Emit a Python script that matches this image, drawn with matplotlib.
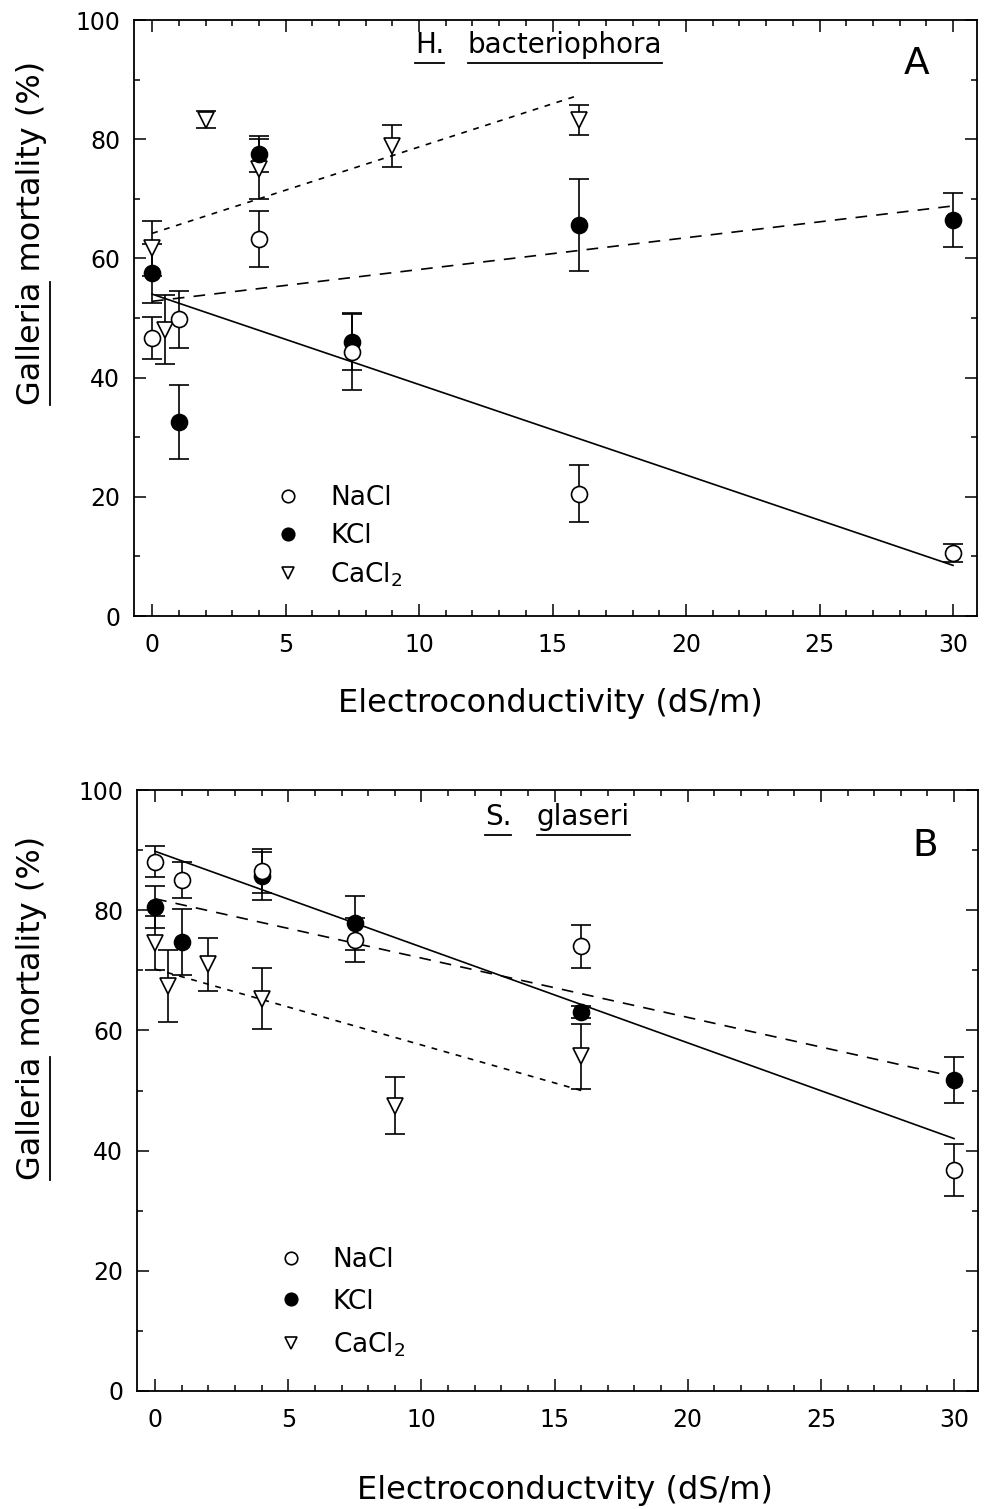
import numpy as np
import matplotlib.pyplot as plt
from matplotlib.lines import Line2D
from matplotlib.ticker import MultipleLocator

W, H = 987, 1509

# electroconductivity levels (dS/m)
ec_nacl = [0, 1, 4, 7.5, 16, 30]
ec_kcl = [0, 1, 4, 7.5, 16, 30]
ec_cacl2 = [0, 0.5, 2, 4, 9, 16]

# panel A, H. bacteriophora: Galleria mortality (%) and error
a_nacl = [46.6, 49.8, 63.3, 44.3, 20.5, 10.5]
a_nacl_err = [3.5, 4.8, 4.7, 6.3, 4.8, 1.5]
a_kcl = [57.5, 32.5, 77.5, 46.0, 65.6, 66.4]
a_kcl_err = [5.0, 6.2, 3.0, 4.8, 7.7, 4.5]
a_cacl2 = [61.7, 48.0, 83.3, 75.0, 78.8, 83.2]
a_cacl2_err = [4.6, 5.8, 1.5, 5.0, 3.5, 2.5]

# panel B, S. glaseri
b_nacl = [88.1, 85.0, 86.5, 75.0, 74.0, 36.8]
b_nacl_err = [2.5, 3.0, 3.6, 3.7, 3.6, 4.3]
b_kcl = [80.5, 74.7, 85.7, 77.9, 63.1, 51.7]
b_kcl_err = [3.5, 5.5, 4.0, 4.5, 1.0, 3.8]
b_cacl2 = [74.6, 67.4, 71.0, 65.3, 47.5, 55.7]
b_cacl2_err = [4.5, 6.0, 4.4, 5.0, 4.8, 5.4]

# regression lines: value at the two ends of the fitted range
fit_x = [0, 30]
fit_x_ca = [0, 16]
a_fit_nacl = [54.0, 8.5]
a_fit_kcl = [52.8, 68.8]
a_fit_cacl2 = [64.2, 87.4]
b_fit_nacl = [89.8, 42.0]
b_fit_kcl = [81.9, 52.3]
b_fit_cacl2 = [70.2, 50.0]


def px(x, y):
    return x / W, 1 - y / H


fig = plt.figure(figsize=(W / 100, H / 100), dpi=100)
ax_a = fig.add_axes([134 / W, 1 - 616 / H, (977 - 134) / W, (616 - 20) / H])
ax_b = fig.add_axes([137 / W, 1 - 1391 / H, (978 - 137) / W, (1391 - 790) / H])


def series(ax, x, y, err, marker, face):
    ax.errorbar(x, y, yerr=err, fmt=marker, mfc=face, mec="black", ms=11.5,
                mew=1.2, ecolor="black", elinewidth=1.2, capsize=7,
                capthick=1.2, zorder=3)


panels = [
    (ax_a, a_nacl, a_nacl_err, a_kcl, a_kcl_err, a_cacl2, a_cacl2_err,
     a_fit_nacl, a_fit_kcl, a_fit_cacl2),
    (ax_b, b_nacl, b_nacl_err, b_kcl, b_kcl_err, b_cacl2, b_cacl2_err,
     b_fit_nacl, b_fit_kcl, b_fit_cacl2),
]

for ax, na, na_e, k, k_e, ca, ca_e, f_na, f_k, f_ca in panels:
    ax.plot(fit_x, f_na, color="black", lw=1.2, zorder=2)
    ax.plot(fit_x, f_k, color="black", lw=1.2, ls=(0, (7, 5.5)), zorder=2)
    ax.plot(fit_x_ca, f_ca, color="black", lw=1.2, ls=(0, (3.5, 4)), zorder=2)
    series(ax, ec_cacl2, ca, ca_e, "v", "white")
    series(ax, ec_kcl, k, k_e, "o", "black")
    series(ax, ec_nacl, na, na_e, "o", "white")

    ax.set_xlim(-0.68, 30.9)
    ax.set_ylim(0, 100)
    ax.xaxis.set_major_locator(MultipleLocator(5))
    ax.xaxis.set_minor_locator(MultipleLocator(1))
    ax.yaxis.set_major_locator(MultipleLocator(20))
    ax.yaxis.set_minor_locator(MultipleLocator(10))
    ax.tick_params(which="both", direction="in", top=True, right=True,
                   width=1.1, labelsize=17)
    ax.tick_params(which="major", length=8.5)
    ax.tick_params(which="minor", length=4.3)
    ax.tick_params(axis="x", pad=12)
    ax.tick_params(axis="y", pad=10)
    for s in ax.spines.values():
        s.set_linewidth(1.3)

    handles = [
        Line2D([], [], ls="none", marker="o", mfc="white", mec="black", ms=9, mew=1.2),
        Line2D([], [], ls="none", marker="o", mfc="black", mec="black", ms=9, mew=1.2),
        Line2D([], [], ls="none", marker="v", mfc="white", mec="black", ms=8, mew=1.2),
    ]
    ax.legend(handles, ["NaCl", "KCl", "CaCl$_2$"], loc="upper left",
              bbox_to_anchor=(0.167, 0.22 if ax is ax_a else 0.24),
              frameon=False, fontsize=19, borderpad=0, borderaxespad=0,
              handlelength=1.0, handletextpad=1.1,
              labelspacing=0.45 if ax is ax_a else 0.6)

# panel titles and letters
titles = []
titles.append(fig.text(*px(415, 53), "H.", fontsize=20, va="baseline"))
titles.append(fig.text(*px(468, 53), "bacteriophora", fontsize=20, va="baseline"))
titles.append(fig.text(*px(485, 825), "S.", fontsize=20, va="baseline"))
titles.append(fig.text(*px(537, 825), "glaseri", fontsize=20, va="baseline"))
fig.text(*px(904, 74), "A", fontsize=27, va="baseline")
fig.text(*px(912, 856), "B", fontsize=27, va="baseline")

fig.text(*px(550, 703), "Electroconductivity (dS/m)", fontsize=23,
         ha="center", va="center")
fig.text(*px(565, 1490), "Electroconductvity (dS/m)", fontsize=23,
         ha="center", va="center")

ylab_starts = [405, 1180]
for y0 in ylab_starts:
    fig.text(*px(40, y0), "Galleria mortality (%)", fontsize=23, rotation=90,
             rotation_mode="anchor", ha="left", va="baseline")

# underlines (drawn from the measured text extents)
fig.canvas.draw()
renderer = fig.canvas.get_renderer()
for t, y_line in zip(titles, [63, 63, 835, 835]):
    bb = t.get_window_extent(renderer)
    yf = 1 - y_line / H
    fig.add_artist(Line2D([bb.x0 / W, bb.x1 / W], [yf, yf], color="black", lw=1.3))

tmp = fig.text(0, 0, "Galleria", fontsize=23)
g_w = tmp.get_window_extent(renderer).width
tmp.remove()
for y0 in ylab_starts:
    xf = 50 / W
    fig.add_artist(Line2D([xf, xf], [1 - y0 / H, 1 - (y0 - g_w) / H],
                          color="black", lw=1.3))

fig.savefig("out.png", dpi=100)
